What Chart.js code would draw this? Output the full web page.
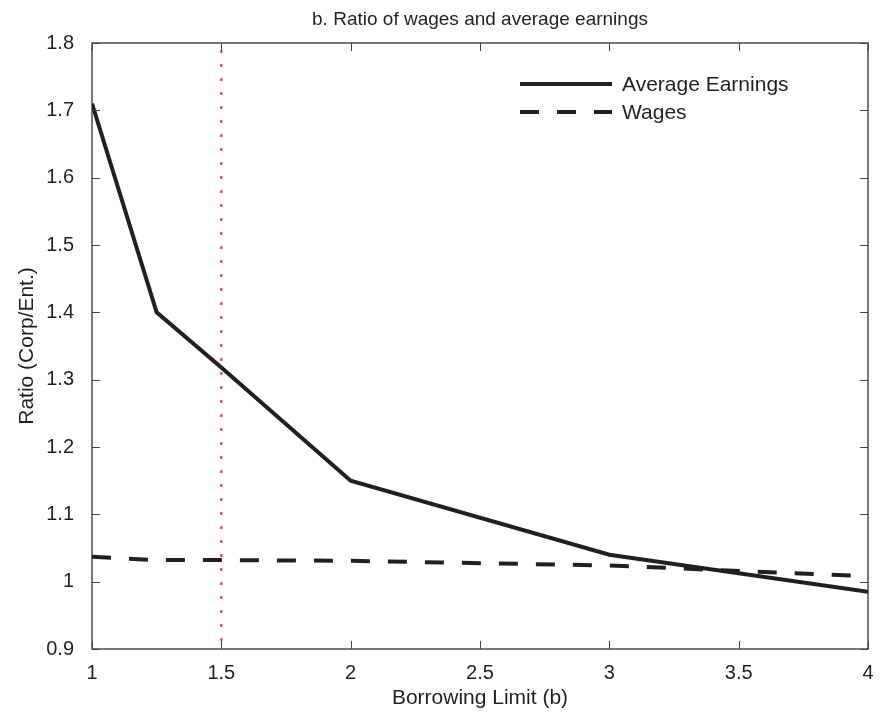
<!DOCTYPE html>
<html>
<head>
<meta charset="utf-8">
<script src="https://cdn.jsdelivr.net/npm/chart.js@4/dist/chart.umd.min.js"></script>
<style>
  html, body { margin: 0; padding: 0; background: #fff; }
  #wrap { width: 896px; height: 713px; }
</style>
</head>
<body>
<div id="wrap"><canvas id="ratioChart"></canvas></div>
<script>
const borrowLimit = [1, 1.25, 1.5, 2, 3, 4];
const avgEarnings = [1.71, 1.40, 1.318, 1.15, 1.04, 0.985];
const wages = [1.037, 1.032, 1.032, 1.031, 1.024, 1.008];
const cutoff = 1.5;
const xTicks = [1, 1.5, 2, 2.5, 3, 3.5, 4];
const yTicks = [0.9, 1, 1.1, 1.2, 1.3, 1.4, 1.5, 1.6, 1.7, 1.8];

const ink = "#231f20";
const font = "'Liberation Sans', Arial, sans-serif";

function toPoints(xs, ys) {
  return xs.map((x, i) => ({ x: x, y: ys[i] }));
}

// matlab style box with inward ticks, plus the legend
const boxPlugin = {
  id: "box",
  afterDraw(chart) {
    const { ctx, chartArea: a, scales } = chart;
    ctx.save();
    ctx.strokeStyle = ink;
    ctx.lineWidth = 1.2;
    ctx.strokeRect(a.left, a.top, a.right - a.left, a.bottom - a.top);
    ctx.strokeStyle = "#444";
    ctx.lineWidth = 1;
    const len = 8;
    xTicks.forEach((v) => {
      const px = Math.round(scales.x.getPixelForValue(v)) + 0.5;
      ctx.beginPath();
      ctx.moveTo(px, a.bottom); ctx.lineTo(px, a.bottom - len);
      ctx.moveTo(px, a.top); ctx.lineTo(px, a.top + len);
      ctx.stroke();
    });
    yTicks.forEach((v) => {
      const py = Math.round(scales.y.getPixelForValue(v)) + 0.5;
      ctx.beginPath();
      ctx.moveTo(a.left, py); ctx.lineTo(a.left + len, py);
      ctx.moveTo(a.right, py); ctx.lineTo(a.right - len, py);
      ctx.stroke();
    });

    // legend
    const lx = 520, lw = 92;
    const rows = [
      { label: "Average Earnings", dash: [], y: 84 },
      { label: "Wages", dash: [19, 18], y: 112 },
    ];
    rows.forEach((r) => {
      ctx.strokeStyle = ink;
      ctx.lineWidth = 4;
      ctx.setLineDash(r.dash);
      ctx.beginPath();
      ctx.moveTo(lx, r.y); ctx.lineTo(lx + lw, r.y);
      ctx.stroke();
      ctx.setLineDash([]);
      ctx.fillStyle = ink;
      ctx.font = "21px " + font;
      ctx.textBaseline = "middle";
      ctx.fillText(r.label, lx + lw + 10, r.y + 1);
    });
    ctx.restore();
  },
};

function fmt(v) {
  return String(Number(v.toFixed(2)));
}

const ctx = document.getElementById("ratioChart").getContext("2d");
new Chart(ctx, {
  type: "line",
  data: {
    datasets: [
      {
        label: "Average Earnings",
        data: toPoints(borrowLimit, avgEarnings),
        borderColor: ink,
        borderWidth: 4,
        pointRadius: 0,
        tension: 0,
      },
      {
        label: "Wages",
        data: toPoints(borrowLimit, wages),
        borderColor: ink,
        borderWidth: 4,
        borderDash: [19, 18],
        pointRadius: 0,
        tension: 0,
      },
      {
        label: "cutoff",
        data: [{ x: cutoff, y: 0.9 }, { x: cutoff, y: 1.8 }],
        borderColor: "#f0303a",
        borderWidth: 2,
        borderDash: [3, 11],
        borderDashOffset: -8,
        pointRadius: 0,
      },
    ],
  },
  options: {
    responsive: true,
    maintainAspectRatio: false,
    animation: false,
    layout: { padding: { top: 43, right: 28, left: 0, bottom: 0 } },
    plugins: {
      legend: { display: false },
      tooltip: { enabled: false },
      title: { display: false },
    },
    scales: {
      x: {
        type: "linear",
        min: 1,
        max: 4,
        grid: { display: false },
        border: { display: false },
        afterBuildTicks: (s) => { s.ticks = xTicks.map((v) => ({ value: v })); },
        afterFit: (s) => { s.height = 64; },
        ticks: {
          color: ink,
          font: { family: font, size: 20 },
          padding: 4,
          callback: fmt,
          maxRotation: 0,
        },
        title: {
          display: true,
          text: "Borrowing Limit (b)",
          color: ink,
          font: { family: font, size: 21 },
          padding: { top: 0, bottom: 2 },
        },
      },
      y: {
        type: "linear",
        min: 0.9,
        max: 1.8,
        grid: { display: false },
        border: { display: false },
        afterBuildTicks: (s) => { s.ticks = yTicks.map((v) => ({ value: v })); },
        afterFit: (s) => { s.width = 92; },
        ticks: {
          color: ink,
          font: { family: font, size: 20 },
          padding: 10,
          callback: fmt,
        },
        title: {
          display: true,
          text: "Ratio (Corp/Ent.)",
          color: ink,
          font: { family: font, size: 21 },
          padding: { top: 15 },
        },
      },
    },
  },
  plugins: [
    boxPlugin,
    {
      id: "topTitle",
      afterDraw(chart) {
        const c = chart.ctx, a = chart.chartArea;
        c.save();
        c.fillStyle = ink;
        c.font = "19px " + font;
        c.textAlign = "center";
        c.textBaseline = "middle";
        c.fillText("b. Ratio of wages and average earnings", (a.left + a.right) / 2, 20);
        c.restore();
      },
    },
  ],
});
</script>
</body>
</html>
